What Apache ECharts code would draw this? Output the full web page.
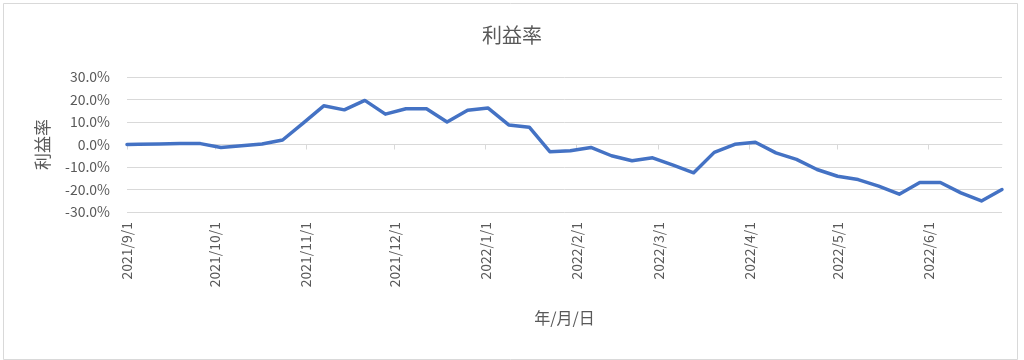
<!DOCTYPE html>
<html>
<head>
<meta charset="utf-8">
<script src="https://cdn.jsdelivr.net/npm/echarts@6/dist/echarts.min.js"></script>
<style>
html,body{margin:0;padding:0;background:#fff;}
#chart{width:1024px;height:360px;}
</style>
</head>
<body>
<div id="chart"></div>
<script>
const titleText = '利益率';
const yAxisName = '利益率';
const xAxisName = '年/月/日';

const dates = [
  '2021-09-01','2021-09-05','2021-09-12','2021-09-19','2021-09-26',
  '2021-10-03','2021-10-10','2021-10-17','2021-10-24','2021-10-31',
  '2021-11-07','2021-11-14','2021-11-21','2021-11-28',
  '2021-12-05','2021-12-12','2021-12-19','2021-12-26',
  '2022-01-02','2022-01-09','2022-01-16','2022-01-23','2022-01-30',
  '2022-02-06','2022-02-13','2022-02-20','2022-02-27',
  '2022-03-06','2022-03-13','2022-03-20','2022-03-27',
  '2022-04-03','2022-04-10','2022-04-17','2022-04-24',
  '2022-05-01','2022-05-08','2022-05-15','2022-05-22','2022-05-29',
  '2022-06-05','2022-06-12','2022-06-19','2022-06-26'
];
const profitRate = [
  0.0, 0.1, 0.2, 0.4, 0.4,
  -1.3, -0.6, 0.2, 2.0, 9.5,
  17.2, 15.4, 19.6, 13.5,
  15.9, 15.9, 10.0, 15.2,
  16.2, 8.7, 7.7, -3.2, -2.8,
  -1.3, -5.0, -7.2, -5.9,
  -9.2, -12.6, -3.5, 0.1,
  1.0, -3.7, -6.6, -11.1,
  -14.1, -15.6, -18.5, -22.1, -16.9,
  -16.9, -21.5, -25.1, -20.0
];
const monthTicks = [
  '2021-09-01','2021-10-01','2021-11-01','2021-12-01','2022-01-01',
  '2022-02-01','2022-03-01','2022-04-01','2022-05-01','2022-06-01'
];
const yMin = -30, yMax = 30, yStep = 10;

const DAY = 86400000;
// days since epoch (UTC) for a date string
function toDay(s){
  const p = s.split('-').map(Number);
  return Math.round(Date.UTC(p[0], p[1]-1, p[2]) / DAY);
}
function fmtDay(v){
  const d = new Date(Math.round(v) * DAY);
  return d.getUTCFullYear() + '/' + (d.getUTCMonth()+1) + '/' + d.getUTCDate();
}

const tickDays = monthTicks.map(toDay);
const xMin = toDay(dates[0]);
const xMax = toDay(dates[dates.length-1]);
const seriesData = dates.map((d,i)=>[toDay(d), profitRate[i]]);

const FONT = '"Noto Sans CJK JP", "Noto Sans", sans-serif';
const TXT = '#595959';
const GRID = '#d9d9d9';

const chart = echarts.init(document.getElementById('chart'), null, {renderer:'canvas'});
chart.setOption({
  animation:false,
  backgroundColor:'#ffffff',
  textStyle:{fontFamily:FONT},
  title:{
    text:titleText, left:'center', top:20,
    textStyle:{fontFamily:FONT, fontSize:20, fontWeight:'normal', color:TXT}
  },
  graphic:[{
    type:'rect', left:1, top:1, silent:true,
    shape:{width:1014, height:356},
    style:{fill:'none', stroke:GRID, lineWidth:1}
  }],
  grid:{left:127, right:22, top:77, bottom:148, containLabel:false},
  xAxis:[{
    type:'value', min:xMin, max:xMax, position:'bottom',
    name:xAxisName, nameLocation:'middle', nameGap:98,
    nameTextStyle:{fontFamily:FONT, fontSize:16, color:TXT},
    axisLine:{show:false, onZero:false}, axisTick:{show:false}, splitLine:{show:false},
    axisLabel:{
      customValues:tickDays, rotate:90, margin:10,
      fontFamily:FONT, fontSize:14, color:TXT, formatter:fmtDay
    }
  },{
    type:'value', min:xMin, max:xMax, position:'bottom',
    axisLine:{show:true, onZero:true, onZeroAxisIndex:0, lineStyle:{color:GRID, width:1}},
    axisTick:{show:true, customValues:tickDays, length:5, lineStyle:{color:GRID}},
    axisLabel:{show:false}, splitLine:{show:false}
  }],
  yAxis:{
    type:'value', min:yMin, max:yMax, interval:yStep,
    name:yAxisName, nameLocation:'middle', nameRotate:90, nameGap:76,
    nameTextStyle:{fontFamily:FONT, fontSize:17, color:TXT},
    axisLine:{show:false}, axisTick:{show:false},
    axisLabel:{fontFamily:FONT, fontSize:14, color:TXT, margin:17,
      formatter:v=>v.toFixed(1)+'%'},
    splitLine:{show:true, lineStyle:{color:GRID, width:1}}
  },
  series:[{
    type:'line', xAxisIndex:0, data:seriesData, showSymbol:false, symbol:'none',
    lineStyle:{color:'#4472C4', width:3.5, cap:'round', join:'round'},
    itemStyle:{color:'#4472C4'}
  }]
});
</script>
</body>
</html>
